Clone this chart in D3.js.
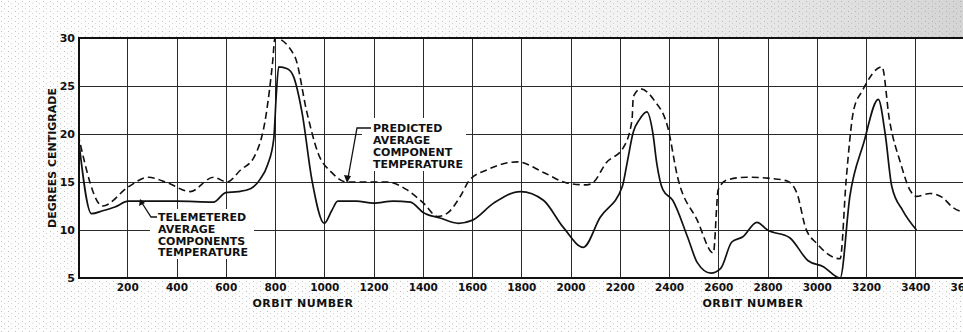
<!DOCTYPE html>
<html>
<head>
<meta charset="utf-8">
<script src="https://cdn.jsdelivr.net/npm/d3@7"></script>
<style>
  html, body { margin: 0; padding: 0; background: #fff; }
  svg { display: block; }
  text { font-family: "DejaVu Sans", sans-serif; font-weight: bold; fill: #111; }
</style>
</head>
<body>
<div id="chart"></div>
<script>
// ---- data ----
const yTicks = [5, 10, 15, 20, 25, 30];
const xTicks = [200, 400, 600, 800, 1000, 1200, 1400, 1600, 1800, 2000, 2200, 2400, 2600, 2800, 3000, 3200, 3400, 3600];
const xTickLabels = ["200","400","600","800","1000","1200","1400","1600","1800","2000","2200","2400","2600","2800","3000","3200","3400","3600"];

const telemeteredOrbits = [0, 55, 100, 150, 205, 300, 400, 550, 600, 650, 700, 740, 770, 795, 805, 815, 850, 875, 910, 950, 1000, 1030, 1055, 1130, 1200, 1280, 1350, 1403, 1470, 1545, 1600, 1688, 1797, 1890, 1970, 2052, 2120, 2210, 2230, 2255, 2280, 2310, 2335, 2350, 2375, 2415, 2475, 2515, 2570, 2610, 2655, 2700, 2757, 2800, 2890, 2965, 3025, 3095, 3135, 3190, 3250, 3278, 3305, 3350, 3405];
const telemeteredTemps = [20, 11.7, 12.0, 12.4, 13.0, 13.0, 13.0, 12.9, 13.9, 14.0, 14.3, 15.3, 16.8, 19.5, 24, 27, 26.8, 26.0, 22.2, 15.2, 10.7, 12.0, 13.0, 13.0, 12.8, 13.0, 12.9, 11.8, 11.25, 10.7, 11.0, 12.8, 14.0, 13.1, 10.3, 8.2, 11.3, 14.5, 17, 20.2, 21.5, 22.3, 20, 17, 14.2, 13.1, 9.3, 6.6, 5.5, 6.0, 8.75, 9.3, 10.8, 10.0, 9.2, 6.8, 6.2, 5.0, 13.6, 19.0, 23.6, 20.0, 14.5, 12.0, 10.0];

const predictedOrbits = [0, 100, 205, 285, 365, 455, 550, 605, 660, 715, 765, 790, 800, 880, 930, 975, 1030, 1090, 1255, 1335, 1403, 1460, 1500, 1550, 1590, 1660, 1785, 1890, 1985, 2065, 2090, 2145, 2215, 2250, 2255, 2285, 2340, 2395, 2435, 2515, 2580, 2600, 2635, 2715, 2800, 2880, 2920, 2955, 3000, 3095, 3120, 3150, 3185, 3265, 3295, 3340, 3380, 3405, 3460, 3510, 3550, 3600];
const predictedTemps = [20, 12.5, 14.5, 15.5, 14.9, 14.0, 15.5, 15.0, 16.25, 17.6, 22.2, 27.4, 30, 28.1, 22.2, 18, 16, 15, 15, 14.2, 12.8, 11.4, 11.75, 13.4, 15.2, 16.25, 17.1, 16.0, 14.9, 14.7, 14.9, 17, 18.6, 21.5, 23.9, 24.7, 23.5, 20.7, 15.5, 11, 7.6, 14.2, 15.2, 15.5, 15.4, 15.1, 13.8, 10.2, 8.6, 7.0, 15.4, 22.5, 24.5, 27, 21.5, 17, 14.1, 13.5, 13.8, 13.4, 12.4, 11.8];

const yAxisTitle = "DEGREES  CENTIGRADE";
const xAxisTitle = "ORBIT NUMBER";
const telemeteredLabel = ["TELEMETERED", "AVERAGE", "COMPONENTS", "TEMPERATURE"];
const predictedLabel = ["PREDICTED", "AVERAGE", "COMPONENT", "TEMPERATURE"];

// ---- drawing ----
const W = 963, H = 332;
const svg = d3.select("#chart").append("svg").attr("width", W).attr("height", H);

const x = d3.scaleLinear().domain([0, 3600]).range([78, 964.5]);
const y = d3.scaleLinear().domain([5, 30]).range([278, 38]);

const defs = svg.append("defs");
const pat = defs.append("pattern").attr("id", "stipple").attr("patternUnits", "userSpaceOnUse")
  .attr("width", 7).attr("height", 5);
pat.append("rect").attr("width", 7).attr("height", 5).attr("fill", "#fdfdfd");
pat.append("rect").attr("x", 1).attr("y", 1).attr("width", 1).attr("height", 1).attr("fill", "#c4c4c4");
pat.append("rect").attr("x", 4).attr("y", 3).attr("width", 1).attr("height", 1).attr("fill", "#d4d4d4");
const grad = defs.append("linearGradient").attr("id", "topShade").attr("x1", 0).attr("x2", 1).attr("y1", 0).attr("y2", 0);
grad.append("stop").attr("offset", "0%").attr("stop-color", "#999").attr("stop-opacity", 0);
grad.append("stop").attr("offset", "45%").attr("stop-color", "#999").attr("stop-opacity", 0.12);
grad.append("stop").attr("offset", "100%").attr("stop-color", "#888").attr("stop-opacity", 0.35);
defs.append("clipPath").attr("id", "plotClip").append("rect")
  .attr("x", x(0)).attr("y", y(30) - 2).attr("width", W - x(0)).attr("height", y(5) - y(30) + 4);

// background stipple
svg.append("rect").attr("width", W).attr("height", H).attr("fill", "url(#stipple)");
svg.append("rect").attr("x", 380).attr("y", 0).attr("width", W - 380).attr("height", y(30)).attr("fill", "url(#topShade)");
// plot area white
svg.append("rect").attr("x", x(0)).attr("y", y(30)).attr("width", W - x(0)).attr("height", y(5) - y(30)).attr("fill", "#fff");

// gridlines
const grid = svg.append("g").attr("stroke", "#2a2a2a").attr("stroke-width", 1);
grid.selectAll("line.v").data(xTicks).join("line")
  .attr("x1", d => Math.round(x(d)) + 0.5).attr("x2", d => Math.round(x(d)) + 0.5)
  .attr("y1", y(30)).attr("y2", y(5));
grid.selectAll("line.h").data(yTicks.filter(d => d > 5 && d < 30)).join("line")
  .attr("x1", x(0)).attr("x2", W)
  .attr("y1", d => Math.round(y(d)) + 0.5).attr("y2", d => Math.round(y(d)) + 0.5);

// frame
svg.append("line").attr("x1", x(0)).attr("x2", W).attr("y1", y(30)).attr("y2", y(30)).attr("stroke", "#111").attr("stroke-width", 2);
svg.append("line").attr("x1", x(0)).attr("x2", W).attr("y1", y(5)).attr("y2", y(5)).attr("stroke", "#111").attr("stroke-width", 2);
svg.append("line").attr("x1", x(0) + 1).attr("x2", x(0) + 1).attr("y1", y(30) - 1).attr("y2", y(5) + 1).attr("stroke", "#111").attr("stroke-width", 2);

// label knock-out boxes
svg.append("rect").attr("x", 150).attr("y", 209).attr("width", 104).attr("height", 50).attr("fill", "#fff");
svg.append("rect").attr("x", 362).attr("y", 118).attr("width", 104).attr("height", 53).attr("fill", "#fff");

// curves
const line = d3.line().x(d => x(d[0])).y(d => y(d[1])).curve(d3.curveMonotoneX);
const plot = svg.append("g").attr("clip-path", "url(#plotClip)");
plot.append("path").datum(d3.zip(predictedOrbits, predictedTemps))
  .attr("d", line).attr("fill", "none").attr("stroke", "#111").attr("stroke-width", 1.6)
  .attr("stroke-dasharray", "7,4");
plot.append("path").datum(d3.zip(telemeteredOrbits, telemeteredTemps))
  .attr("d", line).attr("fill", "none").attr("stroke", "#111").attr("stroke-width", 1.7);

// axes (labels only)
const yAxis = d3.axisLeft(y).tickValues(yTicks).tickSize(0).tickPadding(3).tickFormat(d3.format("d"));
const gy = svg.append("g").attr("transform", `translate(${x(0)},0)`).call(yAxis);
gy.select(".domain").remove();
gy.selectAll("text").style("font-size", "11px").style("font-family", "DejaVu Sans").style("font-weight", "bold").attr("fill", "#111");

const xAxis = d3.axisBottom(x).tickValues(xTicks).tickSize(0).tickPadding(6)
  .tickFormat((d, i) => xTickLabels[i]);
const gx = svg.append("g").attr("transform", `translate(0,${y(5)})`).call(xAxis);
gx.select(".domain").remove();
gx.selectAll("text").style("font-size", "10.5px").style("font-family", "DejaVu Sans").style("font-weight", "bold").attr("fill", "#111");

// axis titles
svg.append("text").attr("transform", `translate(53,${158}) rotate(-90)`)
  .attr("text-anchor", "middle").attr("dominant-baseline", "middle")
  .style("font-size", "11px").text(yAxisTitle);
[303, 753].forEach(cx => {
  svg.append("text").attr("x", cx).attr("y", 307).attr("text-anchor", "middle")
    .style("font-size", "11px").style("letter-spacing", "0.5px").text(xAxisTitle);
});

// annotations
const tel = svg.append("g");
telemeteredLabel.forEach((t, i) => {
  tel.append("text").attr("x", 158).attr("y", 221 + i * 11.8).style("font-size", "11px").text(t);
});
svg.append("path").attr("d", `M157,217 L151,217 L142,203`).attr("fill", "none").attr("stroke", "#111").attr("stroke-width", 1.3);
svg.append("path").attr("d", "M140,199 L139,206 L145,203 Z").attr("fill", "#111");

predictedLabel.forEach((t, i) => {
  svg.append("text").attr("x", 373).attr("y", 132 + i * 12).style("font-size", "11px").text(t);
});
svg.append("path").attr("d", `M371,128 L357,128 L348,178`).attr("fill", "none").attr("stroke", "#111").attr("stroke-width", 1.3);
svg.append("path").attr("d", "M347,183 L344,175 L351,176 Z").attr("fill", "#111");
</script>
</body>
</html>
